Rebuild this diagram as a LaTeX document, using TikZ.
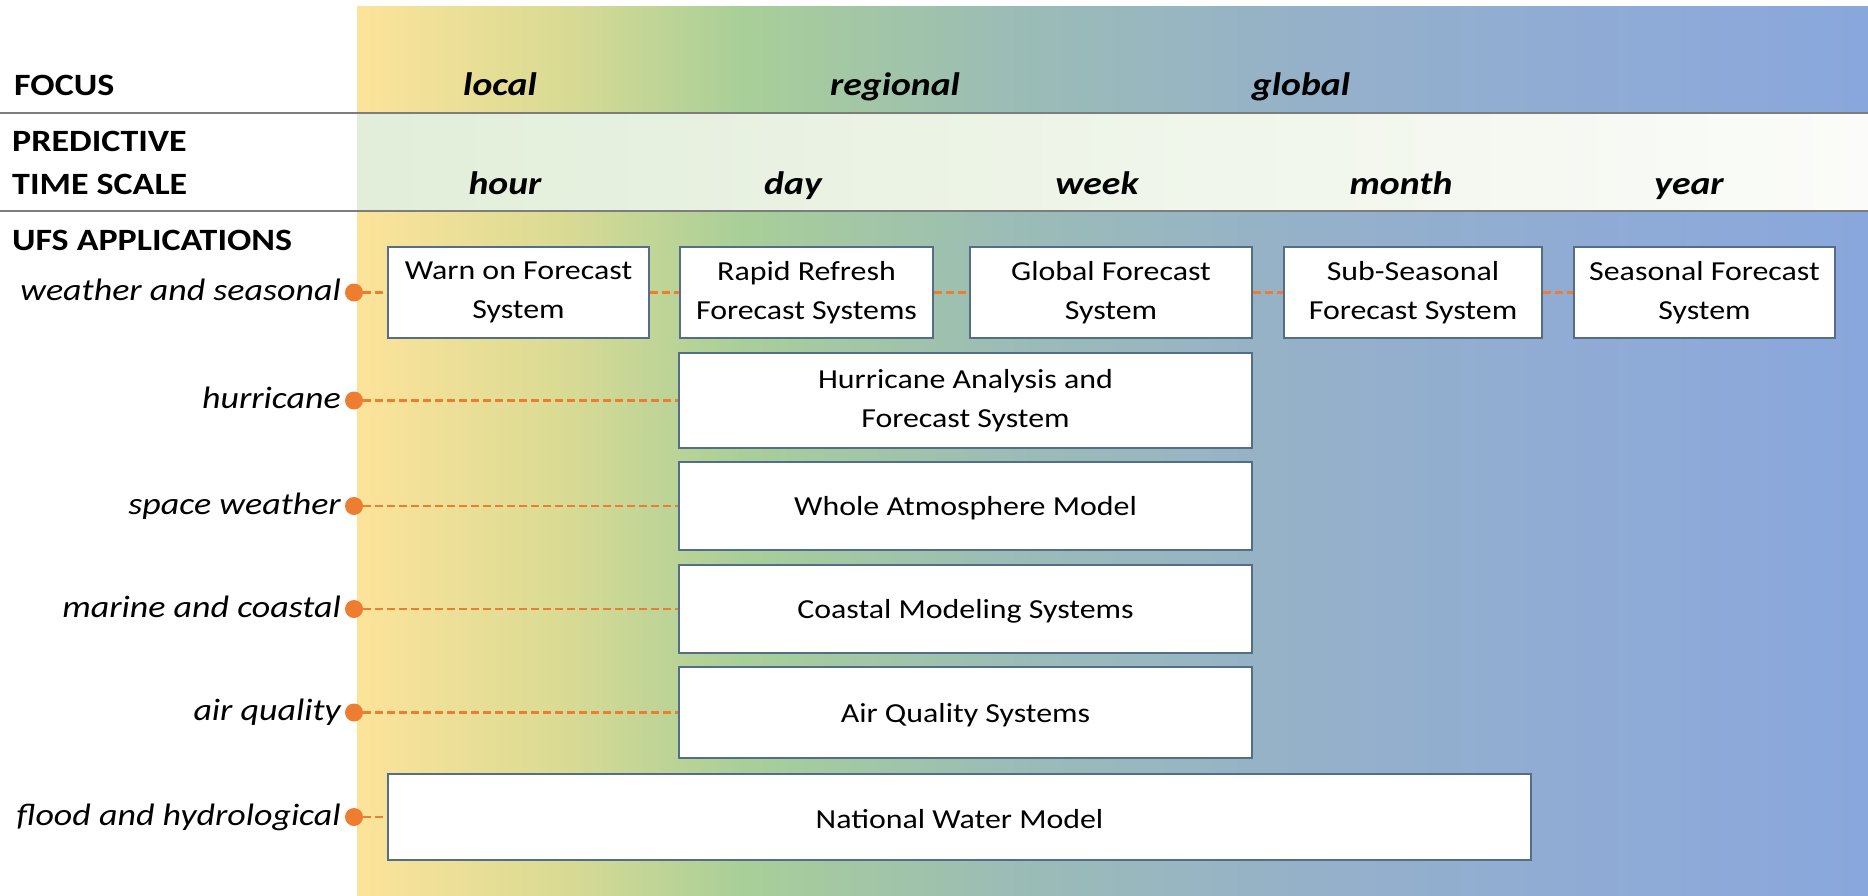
\documentclass[tikz,border=0pt]{standalone}
\usepackage{fontspec}
\setmainfont{Carlito}[FakeStretch=1.16]
\definecolor{c0}{RGB}{253,227,154}
\definecolor{c1}{RGB}{218,219,148}
\definecolor{c2}{RGB}{169,207,152}
\definecolor{c3}{RGB}{155,189,181}
\definecolor{c4}{RGB}{149,177,201}
\definecolor{c5}{RGB}{143,171,213}
\definecolor{c6}{RGB}{138,167,221}
\definecolor{rowleft}{RGB}{226,238,217}
\definecolor{rowright}{RGB}{251,252,249}
\definecolor{boxline}{RGB}{84,110,138}
\definecolor{ufsorange}{RGB}{237,125,49}
\definecolor{rulegray}{RGB}{125,125,125}
\pgfdeclarehorizontalshading{bandshade}{100bp}{color(0bp)=(c0); color(25bp)=(c0); color(31.7bp)=(c1); color(37.65bp)=(c2); color(46.3bp)=(c3); color(56.2bp)=(c4); color(66.15bp)=(c5); color(75bp)=(c6); color(100bp)=(c6)}
\newcommand\ufsboxfont{\fontsize{27.5}{39}\selectfont}
\newcommand\ufshead{\fontsize{31}{34}\selectfont\bfseries}
\newcommand\ufsheadit{\fontsize{32.5}{34}\selectfont\bfseries\itshape}
\newcommand\ufslabfont{\fontsize{31}{34}\selectfont\itshape}
\tikzset{
  box/.style={draw=boxline, line width=1.6pt, fill=white, align=center, inner sep=0pt, font=\ufsboxfont,
    execute at begin node={\rule{0pt}{24pt}}},
  hdr/.style={anchor=base west, inner sep=0pt, font=\ufshead, align=left},
  hdrit/.style={anchor=base, inner sep=0pt, font=\ufsheadit},
  lab/.style={anchor=base east, inner sep=0pt, font=\ufslabfont},
  dot/.style={circle, fill=ufsorange, inner sep=0pt, minimum size=18pt},
  link/.style={draw=ufsorange, line width=2.4pt, dash pattern=on 8pt off 4pt},
  hline/.style={draw=rulegray, line width=2.4pt}
}
\begin{document}
\begin{tikzpicture}[x=1pt,y=-1pt]
\useasboundingbox (0,0) rectangle (1868,895);
% background band
\shade[shading=bandshade] (357,6) rectangle (1868,895);
\shade[left color=rowleft, right color=rowright] (357,113) rectangle (1868,211);
\draw[hline] (0,113) -- (1868,113);
\draw[hline] (0,211) -- (1868,211);
% headers
\node[hdr] (hfocus) at (14,95) {FOCUS};
\node[hdr] (hpred) at (12,151) {PREDICTIVE};
\node[hdr] (htime) at (12,194) {TIME SCALE};
\node[hdr] (hufs) at (12,250) {UFS APPLICATIONS};
\node[hdrit] (flocal) at (500,95) {local};
\node[hdrit] (fregional) at (895,95) {regional};
\node[hdrit] (fglobal) at (1301,95) {global};
\node[hdrit] (thour) at (505,194) {hour};
\node[hdrit] (tday) at (793,194) {day};
\node[hdrit] (tweek) at (1097,194) {week};
\node[hdrit] (tmonth) at (1401,194) {month};
\node[hdrit] (tyear) at (1689,194) {year};
% boxes
\node[box, minimum width=261pt, minimum height=91pt] (warn) at (518.5,292.5) {Warn on Forecast\\System};
\node[box, minimum width=253pt, minimum height=91pt] (rapid) at (806.5,292.5) {Rapid Refresh\\Forecast Systems};
\node[box, minimum width=282pt, minimum height=91pt] (gfs) at (1111,292.5) {Global Forecast\\System};
\node[box, minimum width=258pt, minimum height=91pt] (sub) at (1413,292.5) {Sub-Seasonal\\Forecast System};
\node[box, minimum width=261pt, minimum height=91pt] (seas) at (1704.5,292.5) {Seasonal Forecast\\System};
\node[box, minimum width=573pt, minimum height=95pt] (hafs) at (965.5,400.5) {Hurricane Analysis and\\Forecast System};
\node[box, minimum width=573pt, minimum height=88pt] (wam) at (965.5,506) {Whole Atmosphere Model};
\node[box, minimum width=573pt, minimum height=88pt] (coast) at (965.5,609) {Coastal Modeling Systems};
\node[box, minimum width=573pt, minimum height=91pt] (aq) at (965.5,712.5) {Air Quality Systems};
\node[box, minimum width=1143pt, minimum height=86pt] (nwm) at (959.5,817) {National Water Model};
% dots
\node[dot] (dw) at (354,292.5) {};
\node[dot] (dh) at (354,400.5) {};
\node[dot] (ds) at (354,506) {};
\node[dot] (dm) at (354,609) {};
\node[dot] (da) at (354,712.5) {};
\node[dot] (df) at (354,817) {};
% labels
\node[lab] (lw) at (341,300.5) {weather and seasonal};
\node[lab] (lh) at (341,408.5) {hurricane};
\node[lab] (ls) at (341,514) {space weather};
\node[lab] (lm) at (341,617) {marine and coastal};
\node[lab] (la) at (341,720.5) {air quality};
\node[lab] (lf) at (341,825) {flood and hydrological};
% connectors
\draw[link] (dw.east) -- (warn.west);
\draw[link] (warn.east) -- (rapid.west);
\draw[link] (rapid.east) -- (gfs.west);
\draw[link] (gfs.east) -- (sub.west);
\draw[link] (sub.east) -- (seas.west);
\draw[link] (dh.east) -- (hafs.west);
\draw[link] (ds.east) -- (wam.west);
\draw[link] (dm.east) -- (coast.west);
\draw[link] (da.east) -- (aq.west);
\draw[link] (df.east) -- (nwm.west);
\end{tikzpicture}
\end{document}
